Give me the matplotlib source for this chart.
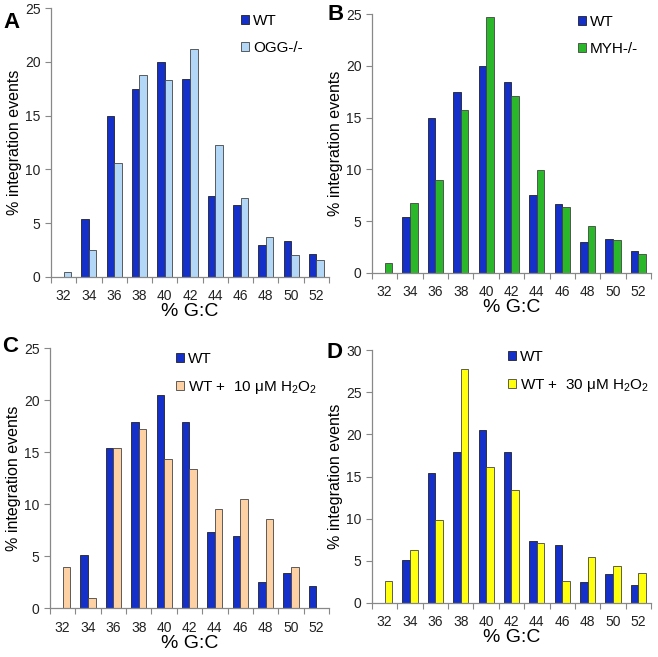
import numpy as np
import matplotlib
matplotlib.use("Agg")
import matplotlib.pyplot as plt
from matplotlib.ticker import FixedLocator

plt.rcParams['font.family'] = ['Liberation Sans', 'DejaVu Sans']
plt.rcParams['mathtext.fontset'] = 'custom'
plt.rcParams['mathtext.rm'] = 'Liberation Sans'

# % G:C bins
gc = [32, 34, 36, 38, 40, 42, 44, 46, 48, 50, 52]

# panel A / B wild type
wt_ab = [0, 5.4, 15.0, 17.5, 20.0, 18.4, 7.5, 6.7, 3.0, 3.3, 2.1]
ogg = [0.5, 2.5, 10.6, 18.8, 18.3, 21.2, 12.3, 7.3, 3.7, 2.0, 1.6]
myh = [0.95, 6.75, 8.95, 15.7, 24.7, 17.05, 9.9, 6.35, 4.5, 3.15, 1.8]

# panel C / D wild type
wt_cd = [0, 5.1, 15.4, 17.9, 20.5, 17.9, 7.3, 6.9, 2.5, 3.4, 2.15]
h2o2_10 = [3.9, 1.0, 15.35, 17.2, 14.35, 13.4, 9.55, 10.5, 8.6, 3.9, 0]
h2o2_30 = [2.65, 6.3, 9.9, 27.75, 16.15, 13.4, 7.15, 2.65, 5.4, 4.4, 3.6]

BLUE = '#1430c8'
W, H = 658, 657

fig = plt.figure(figsize=(W / 100, H / 100), dpi=100)


def px_axes(left, right, top, bottom):
    return fig.add_axes([left / W, 1 - bottom / H, (right - left) / W, (bottom - top) / H])


def panel(box, wt, other, color, label, ymax, leg_xy, letter, letter_xy):
    ax = px_axes(*box)
    x = np.array(gc, dtype=float)
    w = 0.6
    ax.bar(x - w / 2, wt, width=w, color=BLUE, edgecolor='#222222', linewidth=0.6, label='WT')
    ax.bar(x + w / 2, other, width=w, color=color, edgecolor='#444444', linewidth=0.6, label=label)
    ax.set_xlim(31, 53)
    ax.set_ylim(0, ymax)
    ax.set_yticks(np.arange(0, ymax + 1, 5))
    ax.set_xticks(gc)
    ax.xaxis.set_minor_locator(FixedLocator(np.arange(31, 54, 2)))
    ax.tick_params(axis='x', which='major', length=0, pad=9, labelsize=10, colors='#222222')
    ax.tick_params(axis='x', which='minor', length=4, width=0.8, color='#888888', direction='out')
    ax.tick_params(axis='y', length=4, width=0.8, color='#888888', labelsize=10, labelcolor='#222222')
    for s in ['top', 'right']:
        ax.spines[s].set_visible(False)
    for s in ['left', 'bottom']:
        ax.spines[s].set_color('#888888')
        ax.spines[s].set_linewidth(0.9)
    ax.set_xlabel('% G:C', fontsize=14, labelpad=0)
    ax.set_ylabel('% integration events', fontsize=11.5, labelpad=2)
    bl, br, bt, bb = box
    lx = (leg_xy[0] - bl) / (br - bl)
    ly = 1 - (leg_xy[1] - bt) / (bb - bt)
    ax.legend(loc='upper left', bbox_to_anchor=(lx, ly), frameon=False, fontsize=11,
              handlelength=0.55, handleheight=0.55, handletextpad=0.25,
              labelspacing=0.85, borderpad=0, borderaxespad=0)
    fig.text(letter_xy[0] / W, 1 - letter_xy[1] / H, letter, fontsize=16,
             fontweight='bold', ha='center', va='center')
    return ax


panel((51, 329, 8, 277), wt_ab, ogg, '#b3d7f7', 'OGG-/-', 25,
      (241, 14), 'A', (12, 22))
panel((372, 651, 14, 273), wt_ab, myh, '#2ab82a', 'MYH-/-', 25,
      (578, 15), 'B', (336, 15))
panel((50, 329, 348, 608), wt_cd, h2o2_10, '#fdd1a4',
      r'WT +  10 μM H$_2$O$_2$', 25, (176, 352), 'C', (10, 347))
panel((372, 651, 350, 603), wt_cd, h2o2_30, '#ffff10',
      r'WT +  30 μM H$_2$O$_2$', 30, (508, 350), 'D', (334, 352))

fig.savefig('out.png', dpi=100)
